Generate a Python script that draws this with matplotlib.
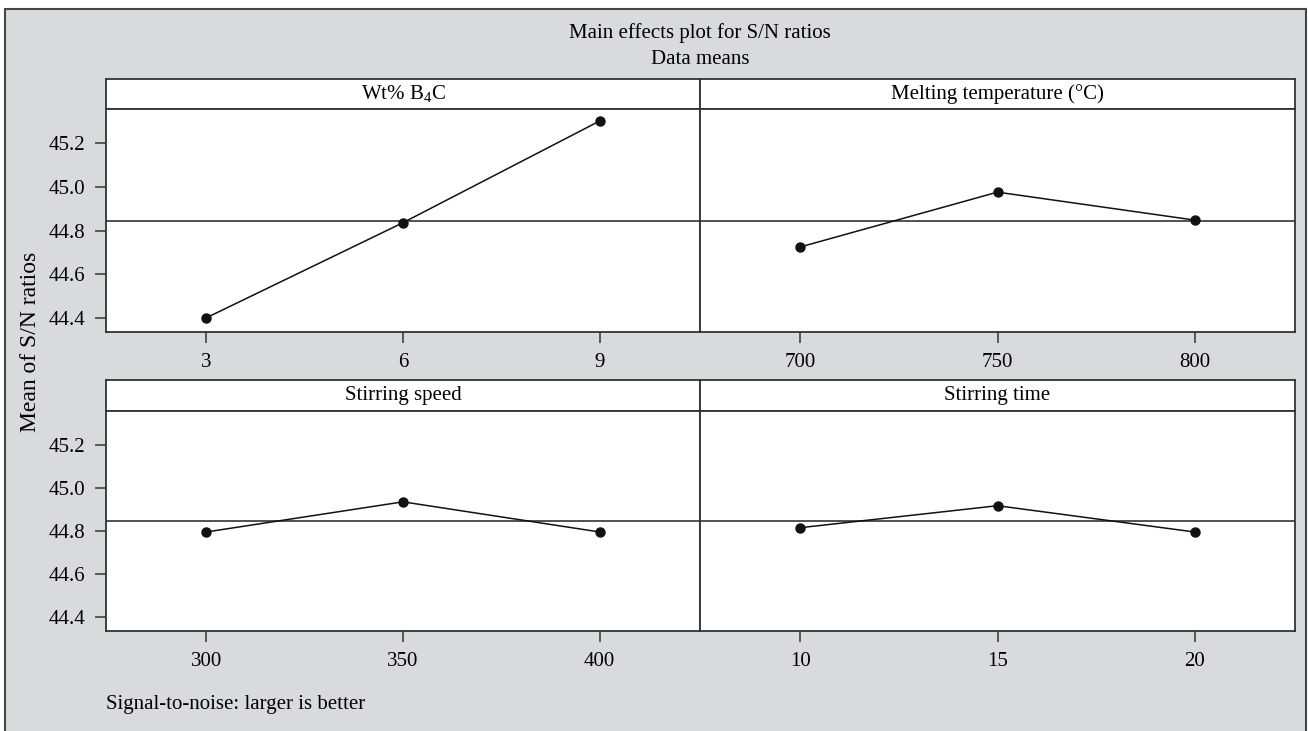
import matplotlib
matplotlib.use('Agg')
import matplotlib.pyplot as plt
from matplotlib.patches import Rectangle

plt.rcParams['font.family'] = ['Liberation Serif', 'DejaVu Serif']
plt.rcParams['mathtext.fontset'] = 'custom'
plt.rcParams['mathtext.rm'] = 'Liberation Serif'

# Data (mean S/N ratio per factor level)
factor_names = [r'Wt% B$_4$C', 'Melting temperature (°C)', 'Stirring speed', 'Stirring time']
wt_levels = ['3', '6', '9']
melt_levels = ['700', '750', '800']
speed_levels = ['300', '350', '400']
time_levels = ['10', '15', '20']
sn_wt = [44.400, 44.836, 45.302]
sn_melt = [44.725, 44.976, 44.848]
sn_speed = [44.795, 44.935, 44.795]
sn_time = [44.815, 44.917, 44.795]
overall_mean = 44.846
y_ticks = [44.4, 44.6, 44.8, 45.0, 45.2]

W, H = 1308, 731
fs = 15
fig = plt.figure(figsize=(W / 100, H / 100), dpi=100, facecolor='white')

# grey outer frame, behind everything
frame = Rectangle((5.5 / W, -0.02), (1306 - 5.5) / W, (H - 9) / H + 0.02,
                  transform=fig.transFigure, facecolor='#d9dadc',
                  edgecolor='#444444', lw=1.5, zorder=-10)
fig.patches.append(frame)

def box(x0, x1, y_top, y_bot):
    return [x0 / W, 1 - y_bot / H, (x1 - x0) / W, (y_bot - y_top) / H]

edge = '#333333'
# (x0, x1, strip top, plot top, plot bottom)
panels = [
    (106, 700, 79, 109, 332),
    (700, 1295, 79, 109, 332),
    (106, 700, 380, 411, 631),
    (700, 1295, 380, 411, 631),
]
levels = [wt_levels, melt_levels, speed_levels, time_levels]
values = [sn_wt, sn_melt, sn_speed, sn_time]

for i, (x0, x1, st, pt, pb) in enumerate(panels):
    # strip with factor name
    sax = fig.add_axes(box(x0, x1, st, pt))
    sax.set_facecolor('white')
    sax.set_xticks([])
    sax.set_yticks([])
    for s in sax.spines.values():
        s.set_color(edge)
        s.set_linewidth(1.3)
    sax.text(0.5, 0.5, factor_names[i], ha='center', va='center', fontsize=fs,
             transform=sax.transAxes)

    ax = fig.add_axes(box(x0, x1, pt, pb))
    ax.set_facecolor('white')
    xs = range(len(levels[i]))
    ax.axhline(overall_mean, color=edge, lw=1.2, zorder=1)
    ax.plot(xs, values[i], color='#111111', lw=1.1, marker='o', markersize=6.5, zorder=3)
    ax.set_xlim(-0.51, 2.51)
    ax.set_ylim(44.335, 45.357)
    ax.set_xticks(list(xs))
    ax.set_xticklabels(levels[i])
    ax.set_yticks(y_ticks)
    ax.set_yticklabels([f'{t:.1f}' for t in y_ticks])
    ax.tick_params(axis='both', direction='out', length=8, width=1.1, color=edge,
                   labelsize=fs, pad=7)
    if i % 2 == 1:
        ax.tick_params(axis='y', left=False, labelleft=False)
    for s in ax.spines.values():
        s.set_color(edge)
        s.set_linewidth(1.3)

fig.text(700 / W, 1 - 33 / H, 'Main effects plot for S/N ratios', ha='center', va='center', fontsize=fs)
fig.text(700 / W, 1 - 59 / H, 'Data means', ha='center', va='center', fontsize=fs)
fig.text(31 / W, 1 - 342 / H, 'Mean of S/N ratios', ha='center', va='center', rotation=90, fontsize=17)
fig.text(106 / W, 1 - 705 / H, 'Signal-to-noise: larger is better', ha='left', va='center', fontsize=fs)

fig.savefig('out.png', dpi=100, facecolor='white')
